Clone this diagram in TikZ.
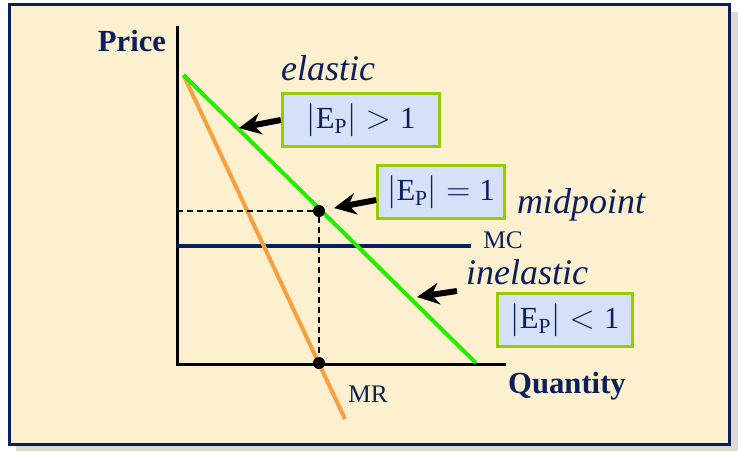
\documentclass[tikz,border=0pt]{standalone}
\usepackage{amsmath}
\usepackage{fontspec}
\setmainfont{Liberation Serif}
\usetikzlibrary{arrows.meta}
\definecolor{navy}{HTML}{0B1F5C}
\definecolor{cream}{HTML}{FDF0CF}
\definecolor{shadowgray}{HTML}{DDD8D0}
\definecolor{demandgreen}{HTML}{22EE00}
\definecolor{mrorange}{HTML}{F8A040}
\definecolor{boxblue}{HTML}{D6E0F8}
\definecolor{boxgreen}{HTML}{99CC00}
\tikzset{
  ebox/.style={draw=boxgreen, fill=boxblue, line width=2.25pt, minimum height=40pt,
    inner sep=0pt, text=navy, font=\fontsize{23}{26}\selectfont},
  axislabel/.style={text=navy, inner sep=0pt, font=\bfseries\fontsize{23}{26}\selectfont},
  zonelabel/.style={text=navy, inner sep=0pt, font=\itshape\fontsize{27}{30}\selectfont},
  curvelabel/.style={text=navy, inner sep=0pt, font=\fontsize{19}{22}\selectfont},
  eqdot/.style={circle, fill=black, inner sep=0pt, minimum size=9pt},
  pointer/.style={line width=4.5pt, -{Stealth[length=16.5pt,width=16pt]}},
  guide/.style={line width=1.5pt, dash pattern=on 4.5pt off 3pt},
}
\begin{document}
\begin{tikzpicture}[x=0.75pt,y=-0.75pt]
\useasboundingbox (0,0) rectangle (738,451);
\fill[shadowgray] (16,12) rectangle (738,451);
\draw[navy, fill=cream, line width=2.25pt] (9.5,4.5) rectangle (729.5,444.5);

\coordinate (O) at (177,364);
\coordinate (ytop) at (177,26);
\coordinate (xend) at (506,364);
\coordinate (A) at (183.5,75);
\coordinate (B) at (476,363);
\coordinate (MRend) at (345,419);
\coordinate (mcstart) at (177,246);
\coordinate (mcend) at (471,246);

\draw[line width=2.25pt] (ytop) -- (O) -- (xend);
\draw[navy, line width=3pt] (mcstart) -- (mcend);
\draw[mrorange, line width=3pt] (A) -- (MRend);
\draw[demandgreen, line width=3pt] (A) -- (B);

\node[eqdot] (mid) at (319,211) {};
\node[eqdot] (qstar) at (319,363) {};
\draw[guide] (O |- mid) -- (mid);
\draw[guide] (mid) -- (qstar);

\node[axislabel] (price) at (132,41) {Price};
\node[axislabel] (qty) at (567,386) {Quantity};
\node[curvelabel] (mc) at (503,240) {MC};
\node[curvelabel] (mr) at (368,394) {MR};
\node[zonelabel] (elastic) at (328,68) {elastic};
\node[zonelabel] (midpt) at (581,205) {midpoint};
\node[zonelabel] (inelastic) at (527,272) {inelastic};

\node[ebox, minimum width=118pt] (gt) at (361,120) {$|\text{E}_\text{P}| > \text{1}$};
\node[ebox, minimum width=95pt] (eq) at (441,192) {$|\text{E}_\text{P}| = \text{1}$};
\node[ebox, minimum width=101pt] (lt) at (565,320) {$|\text{E}_\text{P}| < \text{1}$};

\coordinate (tipgt) at (239,128);
\coordinate (tipeq) at (334,208);
\coordinate (taillt) at (457,291);
\coordinate (tiplt) at (417,297);
\draw[pointer] (gt.west) -- (tipgt);
\draw[pointer] ([yshift=-6pt]eq.west) -- (tipeq);
\draw[pointer] (taillt) -- (tiplt);
\end{tikzpicture}
\end{document}
